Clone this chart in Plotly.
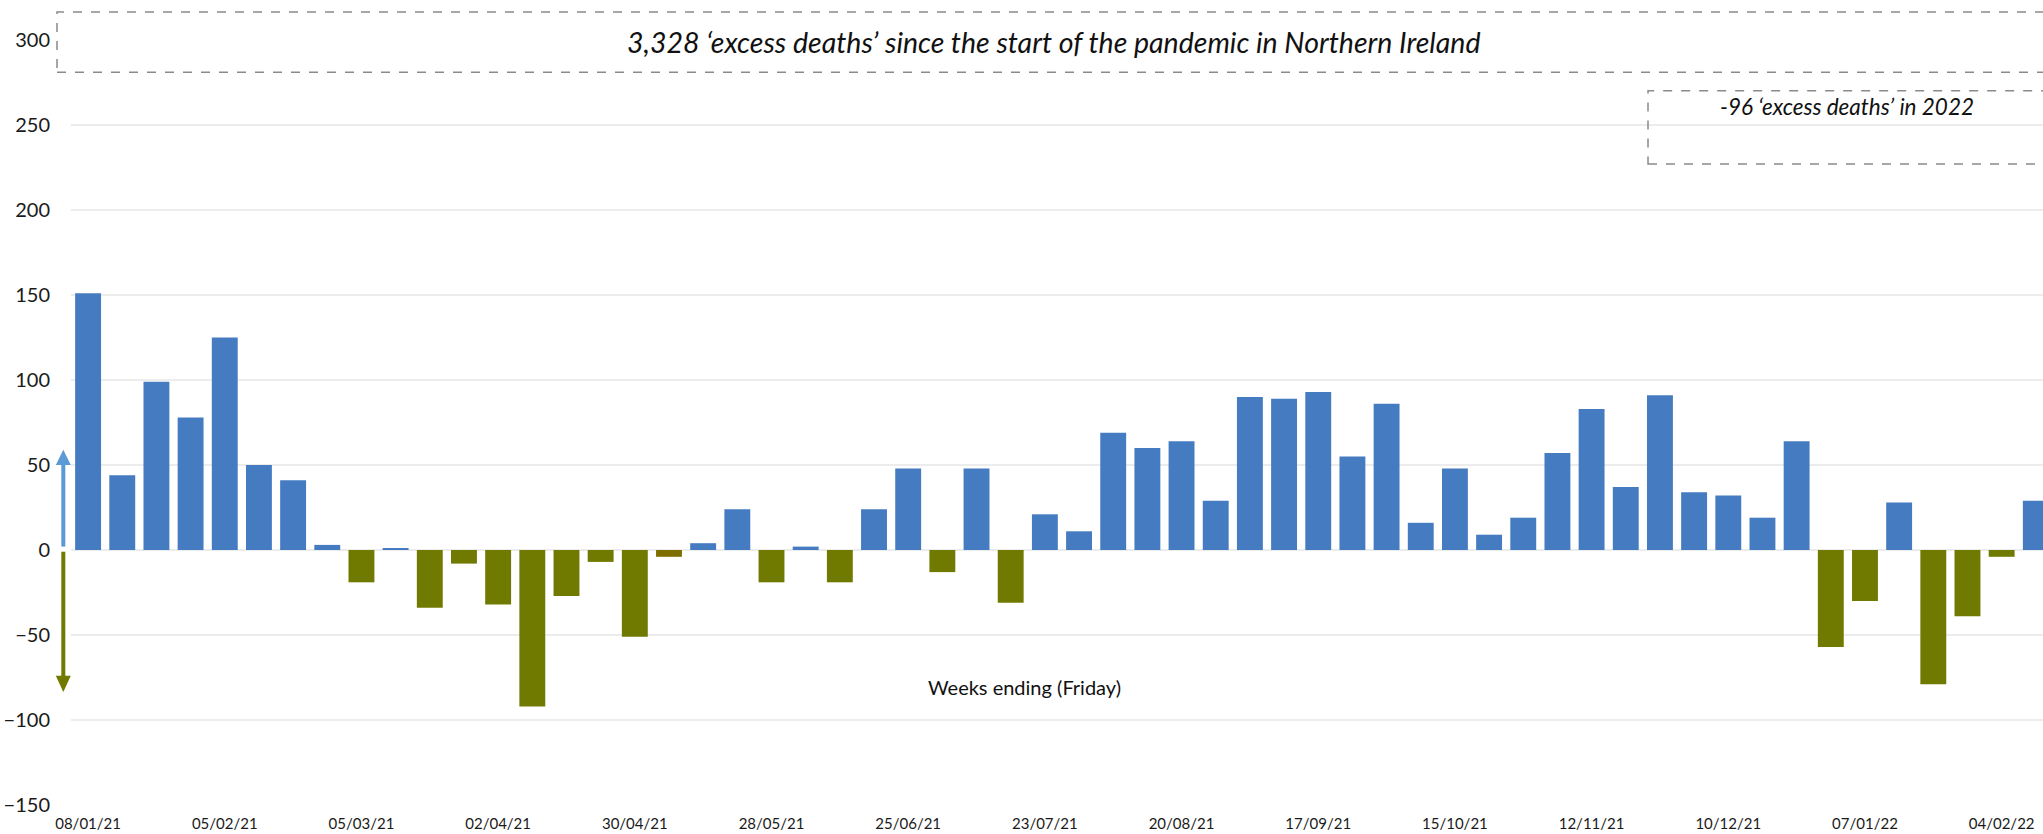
import plotly.graph_objects as go

weeks = [
    "08/01/21", "15/01/21", "22/01/21", "29/01/21", "05/02/21", "12/02/21", "19/02/21", "26/02/21",
    "05/03/21", "12/03/21", "19/03/21", "26/03/21", "02/04/21", "09/04/21", "16/04/21", "23/04/21",
    "30/04/21", "07/05/21", "14/05/21", "21/05/21", "28/05/21", "04/06/21", "11/06/21", "18/06/21",
    "25/06/21", "02/07/21", "09/07/21", "16/07/21", "23/07/21", "30/07/21", "06/08/21", "13/08/21",
    "20/08/21", "27/08/21", "03/09/21", "10/09/21", "17/09/21", "24/09/21", "01/10/21", "08/10/21",
    "15/10/21", "22/10/21", "29/10/21", "05/11/21", "12/11/21", "19/11/21", "26/11/21", "03/12/21",
    "10/12/21", "17/12/21", "24/12/21", "31/12/21", "07/01/22", "14/01/22", "21/01/22", "28/01/22",
    "04/02/22", "11/02/22",
]

excess_deaths = [
    151, 44, 99, 78, 125, 50, 41, 3,
    -19, 1, -34, -8, -32, -92, -27, -7,
    -51, -4, 4, 24, -19, 2, -19, 24,
    48, -13, 48, -31, 21, 11, 69, 60,
    64, 29, 90, 89, 93, 55, 86, 16,
    48, 9, 19, 57, 83, 37, 91, 34,
    32, 19, 64, -57, -30, 28, -79, -39,
    -4, 29,
]

tick_labels = weeks[::4]

y_ticks = [-150, -100, -50, 0, 50, 100, 150, 200, 250, 300]

title_text = "3,328 \u2018excess deaths\u2019 since the start of the pandemic in Northern Ireland"
box2_text = "-96 \u2018excess deaths\u2019 in 2022"
axis_text = "Weeks ending (Friday)"

BLUE = "#457BC0"
OLIVE = "#717A00"
BROWN = "#7E6E00"

colors = []
for i, v in enumerate(excess_deaths):
    if v >= 0:
        colors.append(BLUE)
    elif weeks[i] == "07/05/21":
        colors.append(BROWN)
    else:
        colors.append(OLIVE)

fig = go.Figure()
fig.add_trace(go.Bar(
    x=weeks, y=excess_deaths, marker=dict(color=colors, line=dict(width=0)),
    showlegend=False,
))

FONT = "Lato"

fig.update_layout(
    width=2043, height=834,
    margin=dict(l=71, r=0, t=40, b=29),
    paper_bgcolor="white", plot_bgcolor="white",
    bargap=0.242,
    font=dict(family=FONT, color="#1a1a1a"),
    xaxis=dict(
        type="category",
        range=[-0.5, 57.21],
        tickmode="array", tickvals=tick_labels, ticktext=tick_labels,
        tickfont=dict(size=15, family=FONT, color="#1a1a1a"),
        showgrid=False, showline=False, ticks="", zeroline=False,
        ticklabelstandoff=8,
    ),
    yaxis=dict(
        range=[-150, 300],
        tickmode="array", tickvals=y_ticks,
        tickfont=dict(size=20, family=FONT, color="#1a1a1a"),
        showgrid=True, gridcolor="#ececec", gridwidth=1.5,
        zeroline=True, zerolinecolor="#ececec", zerolinewidth=1.5,
        showline=False, ticks="", ticklabelstandoff=20,
    ),
)

# Dashed annotation boxes
fig.add_shape(type="rect", xref="paper", yref="paper",
              x0=-0.0071, x1=1.02, y0=0.958, y1=1.0366,
              line=dict(color="#8a8a8a", width=1.5, dash="dash"), fillcolor="rgba(0,0,0,0)")
fig.add_annotation(xref="paper", yref="paper", x=0.498, y=0.997, text=title_text,
                   showarrow=False, xanchor="center", yanchor="middle",
                   font=dict(family=FONT, size=28.5, color="#111111", style="italic"))

fig.add_shape(type="rect", xref="paper", yref="paper",
              x0=0.7997, x1=1.02, y0=0.8379, y1=0.9337,
              line=dict(color="#8a8a8a", width=1.5, dash="dash"), fillcolor="rgba(0,0,0,0)")
fig.add_annotation(xref="paper", yref="paper", x=0.9006, y=0.9137, text=box2_text,
                   showarrow=False, xanchor="center", yanchor="middle",
                   font=dict(family=FONT, size=22.5, color="#111111", style="italic"))

fig.add_annotation(xref="paper", yref="paper", x=0.4833, y=0.1542, text=axis_text,
                   showarrow=False, xanchor="center", yanchor="middle",
                   font=dict(family=FONT, size=20, color="#111111"))

# Direction arrows at left of the plot
ax_x = -0.0039
hw = 0.0038
fig.add_shape(type="line", xref="paper", yref="y", x0=ax_x, x1=ax_x, y0=2, y1=50,
              line=dict(color="#5B9BD5", width=4))
fig.add_shape(type="path", xref="paper", yref="y",
              path=f"M {ax_x-hw} 50 L {ax_x+hw} 50 L {ax_x} 59 Z",
              fillcolor="#5B9BD5", line=dict(width=0))
fig.add_shape(type="line", xref="paper", yref="y", x0=ax_x, x1=ax_x, y0=-1, y1=-75,
              line=dict(color=OLIVE, width=4))
fig.add_shape(type="path", xref="paper", yref="y",
              path=f"M {ax_x-hw} -74 L {ax_x+hw} -74 L {ax_x} -83.5 Z",
              fillcolor=OLIVE, line=dict(width=0))

fig.write_html(
    "out.html",
    config={"displayModeBar": False},
    post_script="document.body.style.margin='0';document.body.style.overflow='hidden';",
)
